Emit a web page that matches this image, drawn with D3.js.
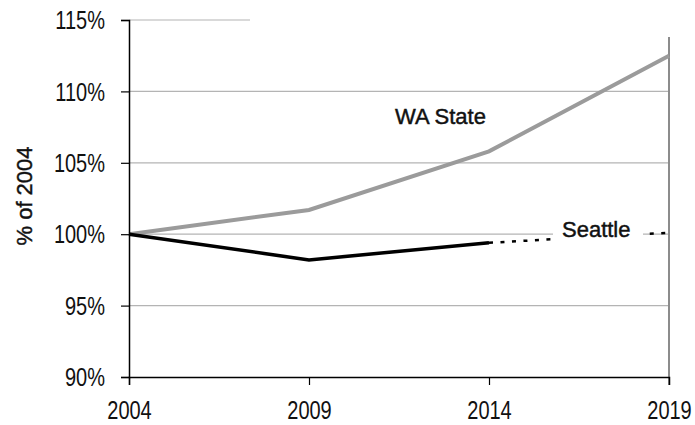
<!DOCTYPE html>
<html lang="en">
    <head>
        <meta charset="utf-8">
        <title>Seattle vs WA State</title>
        <script src="https://d3js.org/d3.v7.min.js"></script>
        <style type="text/css">
            body{
                margin:0;
                background:#fff;
            }
            svg{
                width:695px;
                height:425px;
                display:block;
            }
            .tick-label{
                font-family: "Liberation Sans", Arial, sans-serif;
                font-size: 25px;
                fill: #111;
            }
            .note{
                font-family: "Liberation Sans", Arial, sans-serif;
                font-size: 22px;
                fill: #111;
                stroke: #111;
                stroke-width: 0.45px;
            }
        </style>
    </head>
    <body>
        <svg></svg>
        <script type="text/javascript">

        const w = 695;
        const h = 425;
        const narrow = 0.8; //squeeze labels, no narrow font installed

        //DATA
        const years = [2004, 2009, 2014, 2019];
        const waState = [100, 101.7, 105.8, 112.5];
        const seattle = [100, 98.2, 99.4];
        const seattleProjYears = [2014, 2019];
        const seattleProj = [99.4, 100.1];
        const yTicks = [90, 95, 100, 105, 110, 115];

        //SCALES
        const x = d3.scaleLinear().domain([2004, 2019]).range([129, 669]);
        const y = d3.scaleLinear().domain([90, 115]).range([377, 20]);

        const svg = d3.select("svg");

        //GRIDLINES
        svg.selectAll("line.grid")
           .data(yTicks.filter(d => d > 90))
           .join("line")
           .attr("class", "grid")
           .attr("x1", x(2004))
           .attr("x2", x(2019))
           .attr("y1", d => y(d))
           .attr("y2", d => y(d))
           .attr("stroke", "#b4b4b4")
           .attr("stroke-width", 1.2);

        //right border of plot area
        svg.append("line")
           .attr("x1", x(2019)).attr("x2", x(2019))
           .attr("y1", y(115)).attr("y2", y(90) + 8)
           .attr("stroke", "#8c8c8c")
           .attr("stroke-width", 2);

        //LINES
        const line = d3.line()
                       .x(d => x(d[0]))
                       .y(d => y(d[1]));

        svg.append("path")
           .datum(d3.zip(years, waState))
           .attr("d", line)
           .attr("fill", "none")
           .attr("stroke", "#9b9b9b")
           .attr("stroke-width", 4);

        svg.append("path")
           .datum(d3.zip(seattleProjYears, seattleProj))
           .attr("d", line)
           .attr("fill", "none")
           .attr("stroke", "#000")
           .attr("stroke-width", 2.5)
           .attr("stroke-dasharray", "4,7.5");

        svg.append("path")
           .datum(d3.zip(years.slice(0, seattle.length), seattle))
           .attr("d", line)
           .attr("fill", "none")
           .attr("stroke", "#000")
           .attr("stroke-width", 3.5);

        //TITLE BOX (covers top of frame)
        svg.append("rect")
           .attr("x", 250).attr("y", 0)
           .attr("width", 445).attr("height", 37)
           .attr("fill", "#fff");

        //AXES
        const yAxis = d3.axisLeft(y).tickValues(yTicks).tickSize(8).tickFormat(d => d + "%");
        const gy = svg.append("g")
                      .attr("transform", `translate(${x(2004)},0)`)
                      .call(yAxis);
        gy.attr("font-size", null).attr("font-family", null);
        gy.select(".domain").attr("stroke", "#000").attr("stroke-width", 1.5);
        gy.selectAll(".tick line").attr("stroke", "#000").attr("stroke-width", 1.2);
        gy.selectAll(".tick text")
          .attr("class", "tick-label")
          .attr("x", -24 / narrow)
          .attr("dy", "0.35em")
          .attr("transform", `scale(${narrow},1)`);

        const xAxis = d3.axisBottom(x).tickValues(years).tickSize(8).tickFormat(d3.format("d"));
        const gx = svg.append("g")
                      .attr("transform", `translate(0,${y(90)})`)
                      .call(xAxis);
        gx.attr("font-size", null).attr("font-family", null);
        gx.select(".domain").attr("stroke", "#000").attr("stroke-width", 1.5);
        gx.selectAll(".tick line")
          .attr("stroke", d => d === 2019 ? "none" : "#000")
          .attr("stroke-width", 1.2);
        gx.selectAll(".tick text")
          .attr("class", "tick-label")
          .attr("y", 24)
          .attr("dy", "0.71em")
          .attr("transform", `scale(${narrow},1)`);

        //AXIS TITLE
        svg.append("text")
           .attr("class", "note")
           .attr("transform", `translate(32,196) rotate(-90)`)
           .attr("text-anchor", "middle")
           .text("% of 2004");

        //SERIES LABELS
        svg.append("text")
           .attr("class", "note")
           .attr("x", 395)
           .attr("y", 124)
           .text("WA State");

        svg.append("rect")
           .attr("x", 553).attr("y", 220)
           .attr("width", 90).attr("height", 22)
           .attr("fill", "#fff");

        svg.append("text")
           .attr("class", "note")
           .attr("x", 562)
           .attr("y", 237)
           .text("Seattle");

        </script>
    </body>
</html>
